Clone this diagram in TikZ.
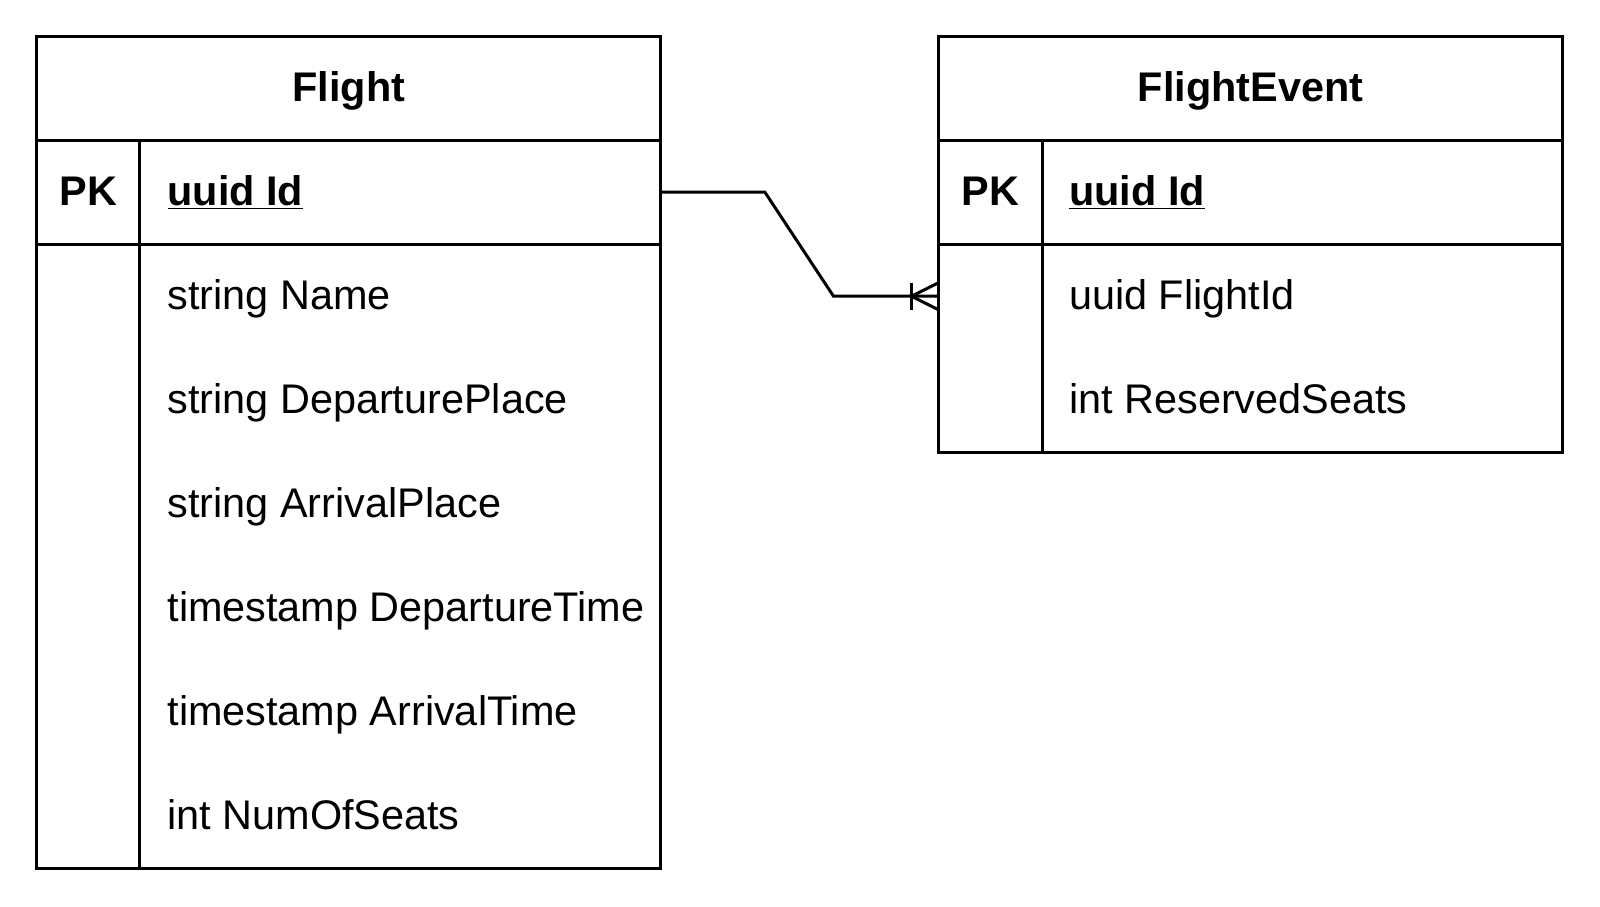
\documentclass[tikz,border=0pt]{standalone}
\usepackage{fontspec}
\setmainfont{Liberation Sans}
\usetikzlibrary{calc}
\tikzset{
  tbl/.style={draw=black,line width=1.5pt,inner sep=0pt,outer sep=0pt,minimum width=312pt},
  rule/.style={draw=black,line width=1.5pt},
  rel/.style={draw=black,line width=1.5pt,line join=miter},
  cell/.style={inner sep=0pt,outer sep=0pt,text height=0.905em,text depth=0.212em,font=\fontsize{20.7}{25}\selectfont},
  headtext/.style={cell,font=\fontsize{20.7}{25}\selectfont\bfseries},
  keytext/.style={cell,font=\fontsize{20.7}{25}\selectfont\bfseries},
  fieldtext/.style={cell,anchor=west}
}
\begin{document}
\begin{tikzpicture}[x=0.5pt,y=-0.5pt]
\path[use as bounding box,fill=white] (0,0) rectangle (1600,906);

% Flight table
\node[tbl,minimum height=416pt] (flight) at (348.9,452.5) {};
\path[rule] ( 36.7,140.2) -- (661.0,140.2);
\path[rule] ( 36.7,244.2) -- (661.0,244.2);
\path[rule] (139.7,140.2) -- (139.7,868.3);
\node[headtext] (fhead) at (348.9, 94.2) {Flight};
\node[keytext] (fpk) at ( 88.2,198.2) {PK};
\node[fieldtext,font=\fontsize{20.7}{25}\selectfont\bfseries] (fid) at (167.5,198.2) {\underline{uuid Id}};
\node[fieldtext] (fname) at (167.5,302.2) {string Name};
\node[fieldtext] (fdepplace) at (167.5,406.2) {string DeparturePlace};
\node[fieldtext] (farrplace) at (167.5,510.2) {string ArrivalPlace};
\node[fieldtext] (fdeptime) at (167.5,614.2) {timestamp DepartureTime};
\node[fieldtext] (farrtime) at (167.5,718.2) {timestamp ArrivalTime};
\node[fieldtext] (fseats) at (167.5,822.2) {int NumOfSeats};

% FlightEvent table
\node[tbl,minimum height=208pt] (fevent) at (1250.5,244.5) {};
\path[rule] ( 938.4,140.2) -- (1562.6,140.2);
\path[rule] ( 938.4,244.2) -- (1562.6,244.2);
\path[rule] (1042.4,140.2) -- (1042.4,452.5);
\node[headtext] (fehead) at (1250.5, 94.2) {FlightEvent};
\node[keytext] (fepk) at ( 990.4,198.2) {PK};
\node[fieldtext,font=\fontsize{20.7}{25}\selectfont\bfseries] (feid) at (1069.2,198.2) {\underline{uuid Id}};
\node[fieldtext] (fefk) at (1069.2,302.2) {uuid FlightId};
\node[fieldtext] (feseats) at (1069.2,406.2) {int ReservedSeats};

% relation Flight 1 -- many FlightEvent
\coordinate (fidrow) at (fid |- 0,192.2);
\coordinate (fkend) at (fevent.west |- 0,296.2);
\path[rel] (flight.east |- fidrow) -- ++(104,0) -- ($(fkend)+(-105,0)$) -- (fkend);
\path[rel] ($(fkend)+(-27,-13.5)$) -- ($(fkend)+(-27,13.5)$);
\path[rel] ($(fkend)+(0,-13.5)$) -- ($(fkend)+(-27,0)$) -- ($(fkend)+(0,13.5)$);
\end{tikzpicture}
\end{document}
